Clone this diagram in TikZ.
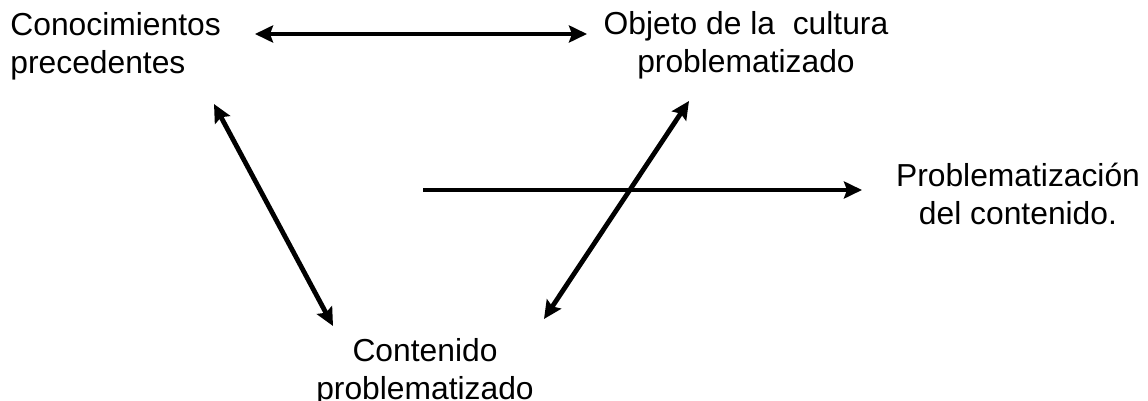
\documentclass[tikz,border=0pt]{standalone}
\usepackage{fontspec}
\setmainfont{Liberation Sans}
\usepackage{tikz}
\usetikzlibrary{arrows,arrows.meta,positioning,calc}

\begin{document}
\begin{tikzpicture}[x=0.5pt, y=-0.5pt,
  lbl/.style={inner sep=0pt, font=\fontsize{15.9}{19.2}\selectfont},
  tip/.style={line width=2.4pt, {Stealth[length=9pt,width=8.5pt,inset=1.5pt]}-{Stealth[length=9pt,width=8.5pt,inset=1.5pt]}}]
  \useasboundingbox (0,0) rectangle (1148,401);

  \node (con) [lbl, anchor=base west, align=left] at (10,74) {Conocimientos\\precedentes};
  \node (obj) [lbl, anchor=base, align=center] at (746,73) {Objeto de la\ \ cultura\\problematizado};
  \node (pro) [lbl, anchor=base, align=center] at (1018,225) {Problematización\\del contenido.};
  \node (cont) [lbl, anchor=base, align=center] at (425,400) {Contenido\\problematizado};

  \coordinate (c1) at (255,34);
  \coordinate (o1) at (587,34);
  \coordinate (c2) at (214,104);
  \coordinate (n1) at (333,326);
  \coordinate (o2) at (689,101);
  \coordinate (n2) at (544,319);
  \coordinate (p0) at (423,190);
  \coordinate (p1) at (862,190);

  \path [tip]
  (c1) edge (o1)
  (c2) edge (n1)
  (o2) edge (n2);
  \draw [line width=2.4pt, -{Stealth[length=9pt,width=8.5pt,inset=1.5pt]}] (p0) -- (p1);
\end{tikzpicture}
\end{document}
